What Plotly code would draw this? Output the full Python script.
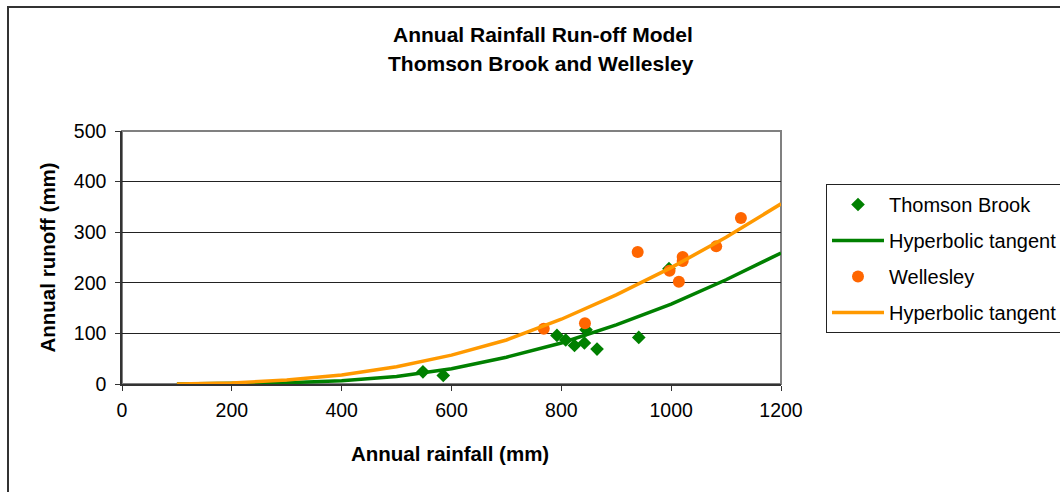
import plotly.graph_objects as go

# Observed data
tb_rain = [548, 585, 792, 808, 824, 842, 845, 865, 941, 996]
tb_runoff = [24, 17, 96, 87, 76, 81, 107, 69, 92, 228]

we_rain = [768, 843, 939, 997, 1014, 1021, 1021, 1082, 1127]
we_runoff = [109, 120, 261, 224, 202, 251, 243, 272, 328]

# Model curves
curve_rain = [100, 200, 300, 400, 500, 600, 700, 800, 900, 1000, 1100, 1200]
tb_model = [0, 0.5, 2.5, 6.5, 15, 30, 53, 81, 117, 158, 206, 259]
we_model = [0, 2, 8, 18, 34, 57, 87, 128, 176, 230, 290, 356]

FONT = "Liberation Sans, Arial, sans-serif"
GREEN = "#008000"
ORANGE_PT = "#FF6600"
ORANGE_LN = "#FF9900"

fig = go.Figure()
fig.add_trace(go.Scatter(x=tb_rain, y=tb_runoff, mode="markers", name="Thomson Brook",
                         legendgroup="a",
                         marker=dict(symbol="diamond", size=10.5, color=GREEN)))
fig.add_trace(go.Scatter(x=curve_rain, y=tb_model, mode="lines", name="Hyperbolic tangent",
                         legendgroup="b",
                         line=dict(color=GREEN, width=3.5)))
fig.add_trace(go.Scatter(x=we_rain, y=we_runoff, mode="markers", name="Wellesley",
                         legendgroup="c",
                         marker=dict(symbol="circle", size=12, color=ORANGE_PT)))
fig.add_trace(go.Scatter(x=curve_rain, y=we_model, mode="lines", name="Hyperbolic tangent",
                         legendgroup="d",
                         line=dict(color=ORANGE_LN, width=3.5)))

L, R, T, B = 122, 279, 131, 108
W, H = 1060, 492
pw = W - L - R
ph = H - T - B

def px2x(px):
    return (px - L) / pw

def px2y(py):
    return (H - B - py) / ph

fig.update_layout(
    width=W, height=H,
    margin=dict(l=L, r=R, t=T, b=B, pad=0, autoexpand=False),
    paper_bgcolor="white", plot_bgcolor="white",
    font=dict(family=FONT, size=20, color="black"),
    showlegend=True,
    legend=dict(x=px2x(826), y=px2y(184), xanchor="left", yanchor="top",
                bordercolor="#222", borderwidth=1, bgcolor="white",
                font=dict(family=FONT, size=20, color="black"),
                itemwidth=52, tracegroupgap=7, traceorder="grouped"),
    xaxis=dict(range=[0, 1200], dtick=200, tick0=0, showgrid=False, zeroline=False,
               showline=True, linecolor="#333", linewidth=1.5, automargin=False,
               ticks="outside", ticklen=5, tickcolor="#333", ticklabelstandoff=3,
               tickfont=dict(family=FONT, size=19.5, color="black")),
    yaxis=dict(range=[0, 500], dtick=100, tick0=0, showgrid=True, gridcolor="#222", gridwidth=1,
               zeroline=False, showline=True, linecolor="#333", linewidth=1.5, automargin=False,
               ticks="outside", ticklen=5, tickcolor="#333", ticklabelstandoff=5,
               tickfont=dict(family=FONT, size=19.5, color="black")),
    shapes=[
        dict(type="rect", xref="paper", yref="paper", x0=0, x1=1, y0=0, y1=1,
             line=dict(color="#808080", width=2), layer="below"),
        dict(type="rect", xref="paper", yref="paper",
             x0=px2x(8), x1=px2x(1075), y0=px2y(505), y1=px2y(7),
             line=dict(color="#333", width=2), layer="below"),
    ],
    annotations=[
        dict(text="<b>Annual Rainfall Run-off Model</b>", xref="paper", yref="paper",
             x=px2x(543), y=px2y(35), xanchor="center", yanchor="middle", showarrow=False,
             font=dict(family=FONT, size=21, color="black")),
        dict(text="<b>Thomson Brook and Wellesley</b>", xref="paper", yref="paper",
             x=px2x(541), y=px2y(63), xanchor="center", yanchor="middle", showarrow=False,
             font=dict(family=FONT, size=21, color="black")),
        dict(text="<b>Annual runoff (mm)</b>", xref="paper", yref="paper",
             x=px2x(47), y=0.5, xanchor="center", yanchor="middle", showarrow=False,
             textangle=-90, font=dict(family=FONT, size=20.5, color="black")),
        dict(text="<b>Annual rainfall (mm)</b>", xref="paper", yref="paper",
             x=px2x(450), y=px2y(453), xanchor="center", yanchor="middle", showarrow=False,
             font=dict(family=FONT, size=20.5, color="black")),
    ],
)

fig.write_html("out.html", config={"displayModeBar": False},
               post_script="document.body.style.margin='0px';document.body.style.overflow='hidden';")
